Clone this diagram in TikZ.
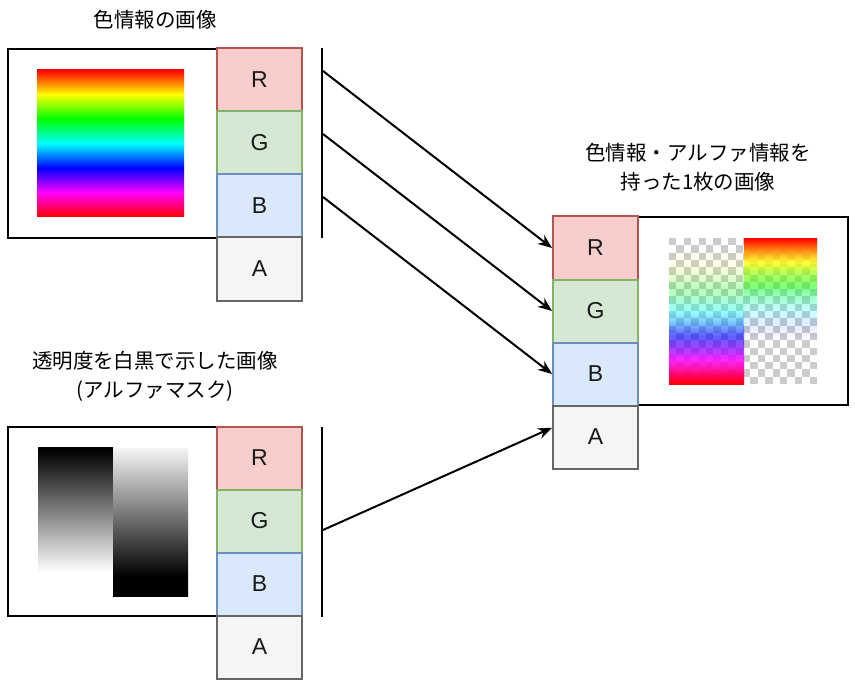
\documentclass[tikz,border=0pt]{standalone}
\usepackage{fontspec}
\setmainfont{Liberation Sans}
\newfontfamily\jp{Noto Sans CJK JP}
\usetikzlibrary{arrows.meta,fadings,calc}
\definecolor{rf}{HTML}{F8CECC}\definecolor{rd}{HTML}{B85450}
\definecolor{gf}{HTML}{D5E8D4}\definecolor{gd}{HTML}{82B366}
\definecolor{bf}{HTML}{DAE8FC}\definecolor{bd}{HTML}{6C8EBF}
\definecolor{af}{HTML}{F5F5F5}\definecolor{ad}{HTML}{666666}
\definecolor{chk}{HTML}{CCCCCC}
\pgfdeclareverticalshading{rainbow}{100bp}{color(0bp)=(red); color(25bp)=(red); color(33.33bp)=(magenta); color(41.67bp)=(blue); color(50bp)=(cyan); color(58.33bp)=(green); color(66.67bp)=(yellow); color(75bp)=(red); color(100bp)=(red)}
\pgfdeclareverticalshading{maskL}{100bp}{color(0bp)=(white); color(33bp)=(white); color(74bp)=(black); color(100bp)=(black)}
\pgfdeclareverticalshading{maskR}{100bp}{color(0bp)=(black); color(31.5bp)=(black); color(75bp)=(white!96!black); color(100bp)=(white!96!black)}
\pgfdeclareverticalshading{fadeLshade}{100bp}{color(0bp)=(white); color(27.5bp)=(white); color(50bp)=(white!40!black); color(71bp)=(black); color(100bp)=(black)}
\pgfdeclareverticalshading{fadeRshade}{100bp}{color(0bp)=(black); color(40bp)=(black); color(50bp)=(white!20!black); color(58.5bp)=(white!50!black); color(73.5bp)=(white); color(100bp)=(white)}
\pgfdeclarefading{fadeL}{\pgfuseshading{fadeLshade}}
\pgfdeclarefading{fadeR}{\pgfuseshading{fadeRshade}}
\begin{document}
\begin{tikzpicture}[x=1pt,y=-1pt,
  cell/.style={draw, line width=2pt, minimum width=85pt, minimum height=63pt, inner sep=0pt, font=\fontsize{23}{27}\selectfont, text=black!90},
  cR/.style={cell, fill=rf, draw=rd},
  cG/.style={cell, fill=gf, draw=gd},
  cB/.style={cell, fill=bf, draw=bd},
  cA/.style={cell, fill=af, draw=ad},
  frame/.style={draw=black, line width=2.5pt, inner sep=0pt},
  lbl/.style={font=\jp\fontsize{20.5}{29}\selectfont, align=center, inner sep=0pt},
  bar/.style={line width=2.5pt},
  arr/.style={line width=2pt, -{Stealth[length=14pt,width=11pt]}}
]
\useasboundingbox (0,0) rectangle (855,682);
% labels
\node[lbl] (l1) at (155,20) {色情報の画像};
\node[lbl] (l2) at (155,376) {透明度を白黒で示した画像\\(アルファマスク)};
\node[lbl] (l3) at (698,167) {色情報・アルファ情報を\\持った1枚の画像};
% frames
\node[frame, minimum width=209pt, minimum height=189pt] (f1) at (112.5,143.5) {};
\node[frame, minimum width=209pt, minimum height=189pt] (f2) at (112.5,521.5) {};
\node[frame, minimum width=210pt, minimum height=188pt] (f3) at (743,311) {};
% top-left picture
\shade[shading=rainbow] (37,70) rectangle (184,217);
% bottom-left mask
\shade[shading=maskL] (38,447) rectangle (113,596);
\shade[shading=maskR] (113,448) rectangle (188,596);
% right composite
\begin{scope}
\clip (669,238) rectangle (817,384);
\foreach \i in {0,...,19}{\foreach \j in {0,...,19}{%
  \ifodd\numexpr\i+\j\relax\else
  \fill[chk] ({669+\i*7.4},{238+\j*7.3}) rectangle ++(7.4,7.3);
  \fi}}
\end{scope}
\shade[shading=rainbow, path fading=fadeL] (669,238) rectangle (744,384);
\shade[shading=rainbow, path fading=fadeR] (744,238) rectangle (817,384);
% cells
\node[cR] (tR) at (259.5,80) {R};
\node[cG] (tG) at (259.5,143) {G};
\node[cB] (tB) at (259.5,206) {B};
\node[cA] (tA) at (259.5,269) {A};
\node[cR] (bR) at (259.5,458) {R};
\node[cG] (bG) at (259.5,521) {G};
\node[cB] (bB) at (259.5,584) {B};
\node[cA] (bA) at (259.5,647) {A};
\node[cR] (rR) at (595.5,248) {R};
\node[cG] (rG) at (595.5,311) {G};
\node[cB] (rB) at (595.5,374) {B};
\node[cA] (rA) at (595.5,437) {A};
% bars
\coordinate (b1t) at (322,48);
\coordinate (b1b) at (322,238);
\coordinate (b2t) at (322,427);
\coordinate (b2b) at (322,617);
\draw[bar] (b1t) -- (b1b);
\draw[bar] (b2t) -- (b2b);
% arrows
\coordinate (s1) at (323,71);
\coordinate (s2) at (323,134);
\coordinate (s3) at (323,197);
\coordinate (s4) at (323,530);
\draw[arr] (s1) -- (rR.west);
\draw[arr] (s2) -- (rG.west);
\draw[arr] (s3) -- (rB.west);
\draw[arr] (s4) -- (rA.168);
\end{tikzpicture}
\end{document}
